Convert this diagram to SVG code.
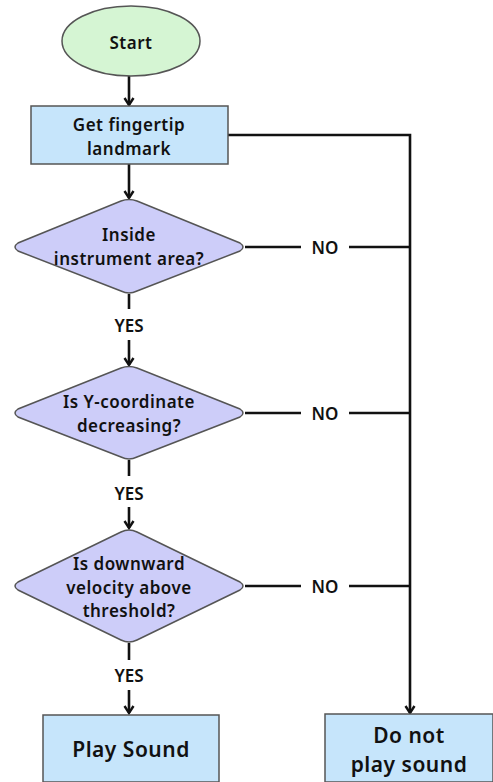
<svg xmlns="http://www.w3.org/2000/svg" width="493" height="782" viewBox="0 0 493 782">
<style>
.t{font-family:"Noto Sans","Open Sans",sans-serif;font-weight:600;fill:#111;text-anchor:middle;dominant-baseline:central}
.n{font-size:17px;letter-spacing:0.5px}
.b{font-size:21px;letter-spacing:0.5px}
.l{font-size:17px}
.c{stroke:#111;stroke-width:2.6;fill:none}
.box{fill:#c6e5fb;stroke:#555;stroke-width:1.5}
.dia{fill:#cdcdf9;stroke:#555;stroke-width:1.5}
</style>
<defs>
<marker id="ah" viewBox="0 0 12 12" refX="10" refY="6" markerWidth="12" markerHeight="12" markerUnits="userSpaceOnUse" orient="auto">
<path d="M3,1.5 L10,6 L3,10.5" fill="none" stroke="#111" stroke-width="2.4"/>
</marker>
</defs>
<rect width="493" height="782" fill="#fff"/>
<g id="connectors">
<line class="c" x1="129" y1="76" x2="129" y2="105" marker-end="url(#ah)"/>
<line class="c" x1="129" y1="164" x2="129" y2="198" marker-end="url(#ah)"/>
<line class="c" x1="129" y1="294" x2="129" y2="309"/>
<line class="c" x1="129" y1="340" x2="129" y2="365" marker-end="url(#ah)"/>
<line class="c" x1="129" y1="460" x2="129" y2="476"/>
<line class="c" x1="129" y1="507" x2="129" y2="528" marker-end="url(#ah)"/>
<line class="c" x1="129" y1="643" x2="129" y2="660"/>
<line class="c" x1="129" y1="690" x2="129" y2="713" marker-end="url(#ah)"/>
<polyline class="c" points="228,135 410,135 410,713" marker-end="url(#ah)"/>
<line class="c" x1="245" y1="247" x2="301" y2="247"/>
<line class="c" x1="349" y1="247" x2="410" y2="247"/>
<line class="c" x1="245" y1="413" x2="301" y2="413"/>
<line class="c" x1="349" y1="413" x2="410" y2="413"/>
<line class="c" x1="245" y1="586" x2="301" y2="586"/>
<line class="c" x1="349" y1="586" x2="410" y2="586"/>
<text class="t l" x="129" y="325">YES</text>
<text class="t l" x="129" y="493">YES</text>
<text class="t l" x="129" y="675">YES</text>
<text class="t l" x="325" y="247">NO</text>
<text class="t l" x="325" y="413">NO</text>
<text class="t l" x="325" y="586">NO</text>
</g>
<g id="start">
<ellipse cx="131" cy="41" rx="69" ry="35" fill="#d5f5d3" stroke="#555" stroke-width="1.5"/>
<text class="t n" x="131" y="42">Start</text>
</g>
<g id="get-landmark">
<rect class="box" x="31" y="106" width="197" height="58"/>
<text class="t n" x="129" y="124">Get fingertip</text>
<text class="t n" x="129" y="148">landmark</text>
</g>
<g id="inside-area">
<path class="dia" d="M121,201 Q129,198 137,201 L240,243 Q246,247 240,251 L137,291 Q129,295 121,291 L18,251 Q12,247 18,243 Z"/>
<text class="t n" x="129" y="234">Inside</text>
<text class="t n" x="129" y="258">instrument area?</text>
</g>
<g id="y-decreasing">
<path class="dia" d="M121,368 Q129,365 137,368 L240,409 Q246,413 240,417 L137,457 Q129,461 121,457 L18,417 Q12,413 18,409 Z"/>
<text class="t n" x="129" y="401">Is Y-coordinate</text>
<text class="t n" x="129" y="425">decreasing?</text>
</g>
<g id="velocity">
<path class="dia" d="M121,532 Q129,528 137,532 L240,582 Q246,586 240,590 L137,640 Q129,644 121,640 L18,590 Q12,586 18,582 Z"/>
<text class="t n" x="129" y="563.5">Is downward</text>
<text class="t n" x="129" y="587">velocity above</text>
<text class="t n" x="129" y="610.5">threshold?</text>
</g>
<g id="play-sound">
<rect class="box" x="43" y="715" width="176" height="67"/>
<text class="t b" x="131" y="749">Play Sound</text>
</g>
<g id="no-sound">
<rect class="box" x="325" y="714" width="168" height="68"/>
<text class="t b" x="409" y="735">Do not</text>
<text class="t b" x="409" y="764">play sound</text>
</g>
</svg>
